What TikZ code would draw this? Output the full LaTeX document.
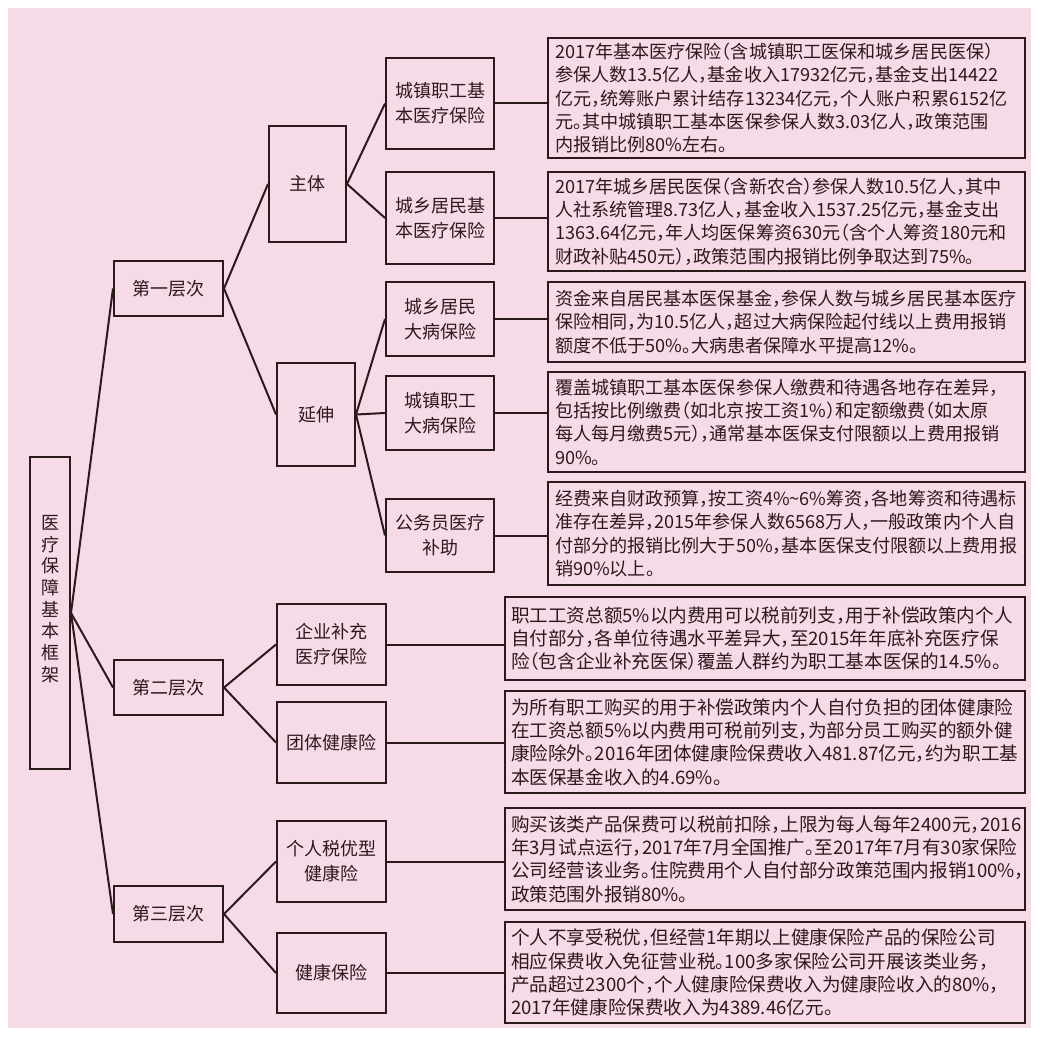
\documentclass[tikz,border=0pt]{standalone}
\usepackage{fontspec}
\setmainfont{Noto Sans CJK SC}[RawFeature=+halt]
\definecolor{ink}{HTML}{2B1A1C}
\definecolor{bg}{HTML}{F7DAE8}
\begin{document}
\begin{tikzpicture}[x=1pt,y=-1pt,
  every node/.style={text=ink},
  box/.style={draw=ink, line width=2pt, inner sep=0pt, align=center, font=\fontsize{18}{25}\selectfont},
  desc/.style={draw=ink, line width=2pt, inner xsep=7pt, inner ysep=0pt, align=left, font=\fontsize{18.1}{23.3}\selectfont},
  descwide/.style={desc, inner xsep=6pt, font=\fontsize{18.6}{23.3}\selectfont},
  link/.style={draw=ink, line width=2pt}]
\useasboundingbox (0,0) rectangle (1039,1043);
\fill[white] (0,0) rectangle (1039,1043);
\fill[bg] (8,8) rectangle (1031,1028);

% root
\node[box, minimum width=40pt, minimum height=312pt] (root) at (50,613) {};
\node[align=center, inner sep=0pt, font=\fontsize{18}{21.7}\selectfont] (roottext) at (50,599) {医\\疗\\保\\障\\基\\本\\框\\架};

% level 1
\node[box, minimum width=109pt, minimum height=55pt] (l1) at (168.5,288.5) {第一层次};
\node[box, minimum width=109pt, minimum height=55pt] (l2) at (168.5,687.5) {第二层次};
\node[box, minimum width=109pt, minimum height=56pt] (l3) at (168.5,914) {第三层次};

% level 2
\node[box, minimum width=77pt, minimum height=116pt] (zt) at (307.5,184) {主体};
\node[box, minimum width=78pt, minimum height=103pt] (ys) at (316,414.5) {延伸};

% level 3 (first tier)
\node[box, minimum width=108pt, minimum height=91pt] (a1) at (440,103.5) {城镇职工基\\本医疗保险};
\node[box, minimum width=108pt, minimum height=92pt] (a2) at (440,218) {城乡居民基\\本医疗保险};
\node[box, minimum width=108pt, minimum height=74pt] (a3) at (440,319) {城乡居民\\大病保险};
\node[box, minimum width=108pt, minimum height=74pt] (a4) at (440,413) {城镇职工\\大病保险};
\node[box, minimum width=108pt, minimum height=73pt] (a5) at (440,535.5) {公务员医疗\\补助};

% second / third tier
\node[box, minimum width=109pt, minimum height=81pt] (b1) at (331.5,644.5) {企业补充\\医疗保险};
\node[box, minimum width=109pt, minimum height=81pt] (b2) at (331.5,742.5) {团体健康险};
\node[box, minimum width=109pt, minimum height=81pt] (c1) at (331.5,861.5) {个人税优型\\健康险};
\node[box, minimum width=109pt, minimum height=80pt] (c2) at (331.5,973) {健康保险};

% descriptions
\node[desc, minimum width=477pt, text width=463pt, minimum height=120pt] (d1) at (786.5,98) {2017年基本医疗保险（含城镇职工医保和城乡居民医保）\\参保人数13.5亿人，基金收入17932亿元，基金支出14422\\亿元，统筹账户累计结存13234亿元，个人账户积累6152亿\\元。其中城镇职工基本医保参保人数3.03亿人，政策范围\\内报销比例80\%左右。};
\node[desc, minimum width=477pt, text width=463pt, minimum height=99pt] (d2) at (786.5,221.5) {2017年城乡居民医保（含新农合）参保人数10.5亿人，其中\\人社系统管理8.73亿人，基金收入1537.25亿元，基金支出\\1363.64亿元，年人均医保筹资630元（含个人筹资180元和\\财政补贴450元），政策范围内报销比例争取达到75\%。};
\node[desc, minimum width=477pt, text width=463pt, minimum height=80pt] (d3) at (786.5,322) {资金来自居民基本医保基金，参保人数与城乡居民基本医疗\\保险相同，为10.5亿人，超过大病保险起付线以上费用报销\\额度不低于50\%。大病患者保障水平提高12\%。};
\node[desc, minimum width=477pt, text width=463pt, minimum height=100pt] (d4) at (786.5,422) {覆盖城镇职工基本医保参保人缴费和待遇各地存在差异，\\包括按比例缴费（如北京按工资1\%）和定额缴费（如太原\\每人每月缴费5元），通常基本医保支付限额以上费用报销\\90\%。};
\node[desc, minimum width=477pt, text width=463pt, minimum height=103pt] (d5) at (786.5,533.5) {经费来自财政预算，按工资4\%\textasciitilde6\%筹资，各地筹资和待遇标\\准存在差异，2015年参保人数6568万人，一般政策内个人自\\付部分的报销比例大于50\%，基本医保支付限额以上费用报\\销90\%以上。};
\node[descwide, minimum width=520pt, text width=508pt, minimum height=83pt] (d6) at (765,638.5) {职工工资总额5\%以内费用可以税前列支，用于补偿政策内个人\\自付部分，各单位待遇水平差异大，至2015年年底补充医疗保\\险（包含企业补充医保）覆盖人群约为职工基本医保的14.5\%。};
\node[descwide, minimum width=520pt, text width=508pt, minimum height=102pt] (d7) at (765,742) {为所有职工购买的用于补偿政策内个人自付负担的团体健康险\\在工资总额5\%以内费用可税前列支，为部分员工购买的额外健\\康险除外。2016年团体健康险保费收入481.87亿元，约为职工基\\本医保基金收入的4.69\%。};
\node[descwide, minimum width=520pt, text width=508pt, minimum height=102pt] (d8) at (765,859) {购买该类产品保费可以税前扣除，上限为每人每年2400元，2016\\年3月试点运行，2017年7月全国推广。至2017年7月有30家保险\\公司经营该业务。住院费用个人自付部分政策范围内报销100\%，\\政策范围外报销80\%。};
\node[descwide, minimum width=520pt, text width=508pt, minimum height=101pt] (d9) at (765,972.5) {个人不享受税优，但经营1年期以上健康保险产品的保险公司\\相应保费收入免征营业税。100多家保险公司开展该类业务，\\产品超过2300个，个人健康险保费收入为健康险收入的80\%，\\2017年健康险保费收入为4389.46亿元。};

% connectors
\draw[link] (root.east) -- (l1.west);
\draw[link] (root.east) -- (l2.west);
\draw[link] (root.east) -- (l3.west);
\draw[link] (l1.east) -- (zt.west);
\draw[link] (l1.east) -- (ys.west);
\draw[link] (zt.east) -- (a1.west);
\draw[link] (zt.east) -- (a2.west);
\draw[link] (ys.east) -- (a3.west);
\draw[link] (ys.east) -- (a4.west);
\draw[link] (ys.east) -- (a5.west);
\draw[link] (l2.east) -- (b1.west);
\draw[link] (l2.east) -- (b2.west);
\draw[link] (l3.east) -- (c1.west);
\draw[link] (l3.east) -- (c2.west);
\foreach \s/\t in {a1/d1,a2/d2,a3/d3,a4/d4,a5/d5,b1/d6,b2/d7,c1/d8,c2/d9}
  \draw[link] (\s.east) -- (\s.east -| \t.west);
\end{tikzpicture}
\end{document}
